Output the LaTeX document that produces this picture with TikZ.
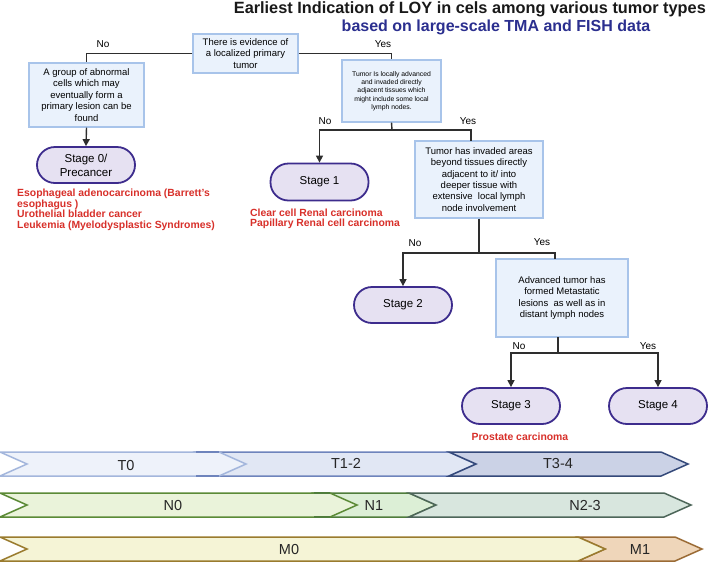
\documentclass[tikz,border=0pt]{standalone}
\usepackage{fontspec}
\setmainfont{Liberation Sans}
\usetikzlibrary{arrows.meta}
\definecolor{boxfill}{HTML}{EAF2FC}
\definecolor{boxline}{HTML}{A8C4EA}
\definecolor{pillfill}{HTML}{E6E1F2}
\definecolor{pillline}{HTML}{3D2C8D}
\definecolor{linecol}{HTML}{2E2E2E}
\definecolor{redtxt}{HTML}{D8302A}
\definecolor{bluetxt}{HTML}{2B2F8F}
\definecolor{tzf}{HTML}{EEF2FA}\definecolor{tzd}{HTML}{A3B6DC}
\definecolor{tof}{HTML}{E1E7F4}\definecolor{tod}{HTML}{6E84BC}
\definecolor{ttf}{HTML}{CBD2E6}\definecolor{ttd}{HTML}{34497A}
\definecolor{nzf}{HTML}{EAF3DA}\definecolor{nzd}{HTML}{5B8A36}
\definecolor{nof}{HTML}{DCEFD6}\definecolor{nod}{HTML}{4F7D3B}
\definecolor{ntf}{HTML}{D8E6DE}\definecolor{ntd}{HTML}{4D6659}
\definecolor{mzf}{HTML}{F5F4D6}\definecolor{mzd}{HTML}{9A7B2E}
\definecolor{mof}{HTML}{EFD6BA}\definecolor{mod}{HTML}{9B6B35}
\newcommand{\chevbar}[6]{\filldraw[fill=#5,draw=#6,line width=1.5pt,line join=miter] (#1,#3) -- ({#2-27},#3) -- (#2,{(#3+#4)/2}) -- ({#2-27},#4) -- (#1,#4) -- ({#1+27},{(#3+#4)/2}) -- cycle;}
\tikzset{
  qbox/.style={rectangle,fill=boxfill,draw=boxline,line width=1.2pt,align=center,inner sep=0pt,font=\fontsize{9.5}{11.5}\selectfont},
  pill/.style={rectangle,rounded corners=18pt,fill=pillfill,draw=pillline,line width=1.8pt,align=center,inner sep=0pt,minimum width=98pt,minimum height=36pt,font=\fontsize{11.5}{14}\selectfont},
  conn/.style={draw=linecol,line width=1.4pt},
  arr/.style={conn,-{Triangle[length=7pt,width=7pt]}},
  lbl/.style={font=\fontsize{10}{12}\selectfont,inner sep=0pt},
  redlist/.style={text=redtxt,font=\bfseries\fontsize{10.4}{10.6}\selectfont,align=left,inner sep=0pt},
  barlbl/.style={font=\fontsize{14.5}{16}\selectfont,inner sep=0pt,text=black!85}
}
\begin{document}
\begin{tikzpicture}[x=1pt,y=-1pt]
\useasboundingbox (0,0) rectangle (708,563);
\fill[white] (0,0) rectangle (708,563);
% titles
\node[anchor=east,inner sep=0pt,font=\bfseries\fontsize{16.3}{18}\selectfont,text=black!90] (title1) at (706,9) {Earliest Indication of LOY in cels among various tumor types};
\node[inner sep=0pt,font=\bfseries\fontsize{16}{18}\selectfont,text=bluetxt] (title2) at (496,27) {based on large-scale TMA and FISH data};
% question boxes
\node[qbox,minimum width=105pt,minimum height=39pt] (b1) at (245.5,53.5) {There is evidence of\\a localized primary\\tumor};
\node[qbox,minimum width=115pt,minimum height=64pt] (b2) at (86.5,95) {A group of abnormal\\cells which may\\eventually form a\\primary lesion can be\\found};
\node[qbox,minimum width=99pt,minimum height=62pt,font=\fontsize{6.8}{8.3}\selectfont] (b3) at (391.5,91) {Tumor Is locally advanced\\and invaded directly\\adjacent tissues which\\might include some local\\lymph nodes.};
\node[qbox,minimum width=128pt,minimum height=77pt,font=\fontsize{9.5}{11.3}\selectfont] (b4) at (479,179.5) {Tumor has invaded areas\\beyond tissues directly\\adjacent to it/ into\\deeper tissue with\\extensive\ \ local lymph\\node involvement};
\node[qbox,minimum width=132pt,minimum height=78pt,font=\fontsize{9.5}{11.2}\selectfont] (b5) at (562,298) {Advanced tumor has\\formed Metastatic\\lesions\ \ as well as in\\distant lymph nodes};
% stage pills
\node[pill] (s0) at (86,165) {Stage 0/\\Precancer};
\node[pill,minimum height=37pt] (s1) at (319.5,182) {Stage 1};
\node[pill] (s2) at (403,305) {Stage 2};
\node[pill] (s3) at (511,406) {Stage 3};
\node[pill] (s4) at (658,406) {Stage 4};
% red lists
\node[redlist,anchor=north west] (r0) at (17,189) {Esophageal adenocarcinoma (Barrett's\\esophagus )\\Urothelial bladder cancer\\Leukemia (Myelodysplastic Syndromes)};
\node[redlist,anchor=north west] (r1) at (250,208.5) {Clear cell Renal carcinoma\\Papillary Renal cell carcinoma};
\node[redlist] (r3) at (520,437) {Prostate carcinoma};
% junction coordinates
\coordinate (j1) at (392,130);
\coordinate (b4in) at (471,141);
\coordinate (j2) at (479,253);
\coordinate (b5in) at (555,259);
\coordinate (b5out) at (558,337);
\coordinate (j3) at (558,353);
% connectors
\draw[conn] (b1.west) -| (b2.north);
\draw[conn] (b1.east) -| (b3.north);
\draw[arr] (b2.south) -- (s0.north);
\draw[conn] (b3.south) -- (j1);
\draw[arr] (j1) -| (s1.north);
\draw[conn] (j1) -| (b4in);
\draw[conn] (b4.south) -- (j2);
\draw[arr] (j2) -| (s2.north);
\draw[conn] (j2) -| (b5in);
\draw[conn] (b5out) -- (j3);
\draw[arr] (j3) -| (s3.north);
\draw[arr] (j3) -| (s4.north);
% yes/no labels
\node[lbl] (n1) at (103,44) {No};
\node[lbl] (y1) at (383,44) {Yes};
\node[lbl] (n2) at (325,121) {No};
\node[lbl] (y2) at (468,121) {Yes};
\node[lbl] (n3) at (415,243) {No};
\node[lbl] (y3) at (542,242) {Yes};
\node[lbl] (n4) at (519,346) {No};
\node[lbl] (y4) at (648,346) {Yes};
% T row
\chevbar{196}{476}{452}{476}{tof}{tod}
\chevbar{0}{246}{452}{476}{tzf}{tzd}
\draw[draw=tod,line width=1.5pt] (196,452) -- (219,452) (196,476) -- (219,476);
\chevbar{449}{688}{452}{476}{ttf}{ttd}
% N row
\chevbar{314}{436}{493}{517}{nof}{nod}
\chevbar{0}{357}{493}{517}{nzf}{nzd}
\draw[draw=nod,line width=1.5pt] (314,493) -- (330,493) (314,517) -- (330,517);
\chevbar{409}{691}{493}{517}{ntf}{ntd}
% M row
\chevbar{578}{702}{537}{561}{mof}{mod}
\chevbar{0}{605}{537}{561}{mzf}{mzd}
% bar labels
\node[barlbl] (t0) at (126,465) {T0};
\node[barlbl] (t12) at (346,463) {T1-2};
\node[barlbl] (t34) at (558,463) {T3-4};
\node[barlbl] (nz) at (173,505) {N0};
\node[barlbl] (no) at (374,505) {N1};
\node[barlbl] (nt) at (585,505) {N2-3};
\node[barlbl] (mz) at (289,549) {M0};
\node[barlbl] (mo) at (640,549) {M1};
\end{tikzpicture}
\end{document}
